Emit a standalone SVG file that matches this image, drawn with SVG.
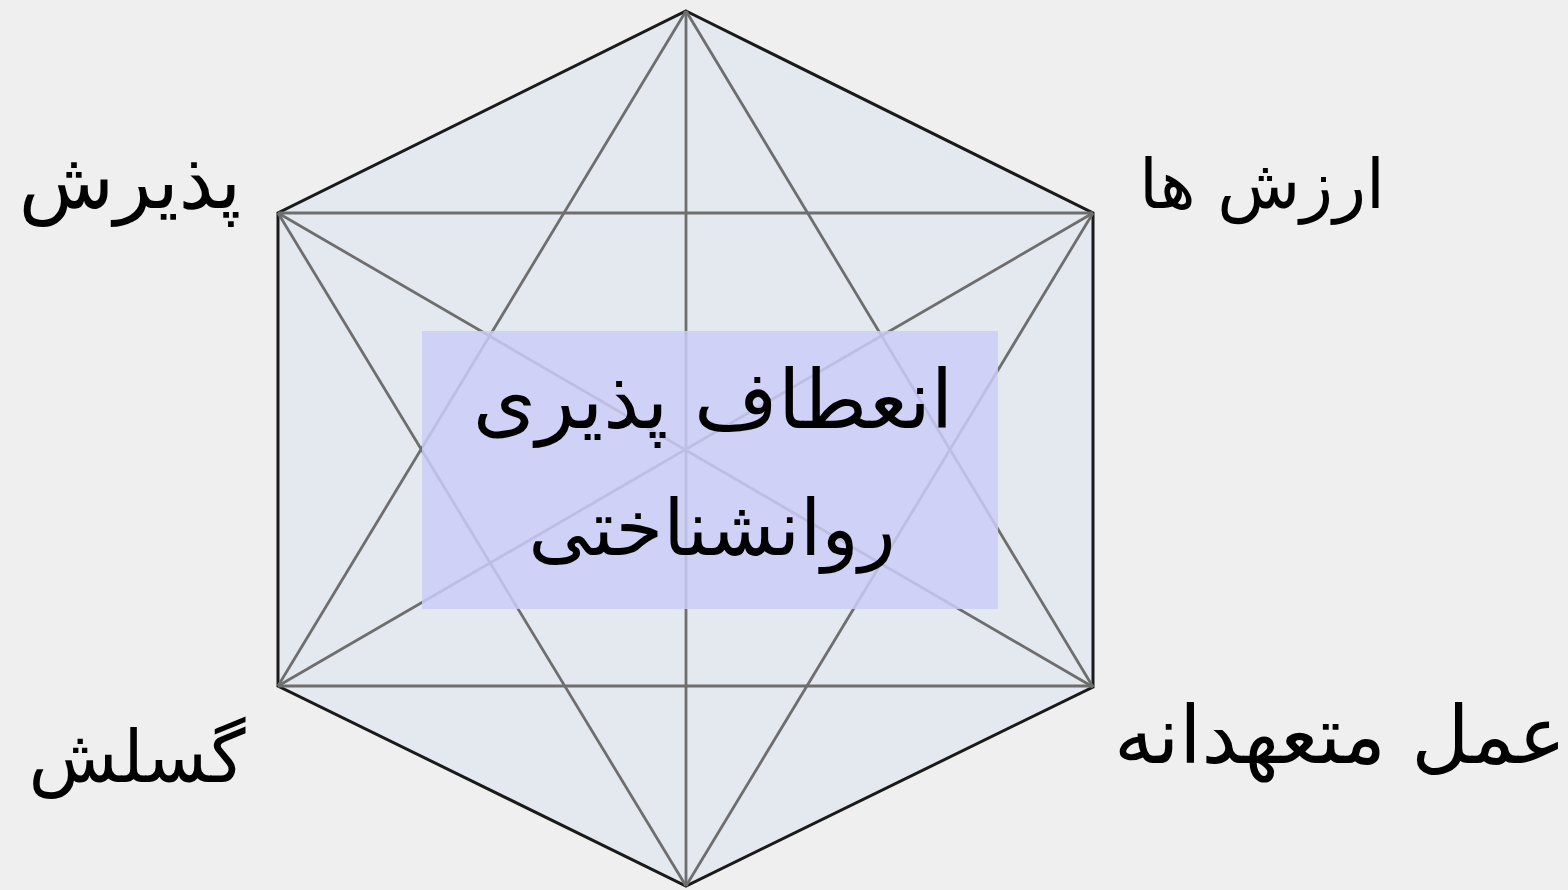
<svg xmlns="http://www.w3.org/2000/svg" width="1568" height="890" viewBox="0 0 1568 890">
<style>
.lbl{font-family:"DejaVu Sans","Noto Sans",sans-serif;fill:#000;}
.inner{stroke:#6e6e6e;stroke-width:2.8;fill:none;}
</style>
<rect width="1568" height="890" fill="#efefef"/>
<g id="hexagon">
<polygon points="686,11 1093,213 1093,687 686,886 278,686 278,213" fill="#e4e9f0" stroke="#1a1a1a" stroke-width="3"/>
</g>
<g id="connectors" class="inner">
<line x1="278" y1="213" x2="1093" y2="213"/>
<line x1="278" y1="686" x2="1093" y2="686"/>
<line x1="686" y1="11" x2="686" y2="886"/>
<line x1="278" y1="213" x2="1093" y2="687"/>
<line x1="1093" y1="213" x2="278" y2="686"/>
<line x1="686" y1="11" x2="278" y2="686"/>
<line x1="686" y1="11" x2="1093" y2="687"/>
<line x1="686" y1="886" x2="278" y2="213"/>
<line x1="686" y1="886" x2="1093" y2="213"/>
</g>
<g id="center">
<rect x="422" y="331" width="576" height="278" fill="#ccccf8" fill-opacity="0.85"/>
<text class="lbl" x="713" y="428" text-anchor="middle" direction="rtl" style="font-size:81px">انعطاف پذیری</text>
<text class="lbl" x="712" y="555" text-anchor="middle" direction="rtl" style="font-size:77px">روانشناختی</text>
</g>
<g id="n-acceptance"><text class="lbl" x="130" y="208" text-anchor="middle" direction="rtl" style="font-size:78px">پذیرش</text></g>
<g id="n-values"><text class="lbl" x="1262" y="208" text-anchor="middle" direction="rtl" style="font-size:68px">ارزش ها</text></g>
<g id="n-defusion"><text class="lbl" x="137" y="782" text-anchor="middle" direction="rtl" style="font-size:73px">گسلش</text></g>
<g id="n-action"><text class="lbl" x="1340" y="763" text-anchor="middle" direction="rtl" style="font-size:80px">عمل متعهدانه</text></g>
</svg>
